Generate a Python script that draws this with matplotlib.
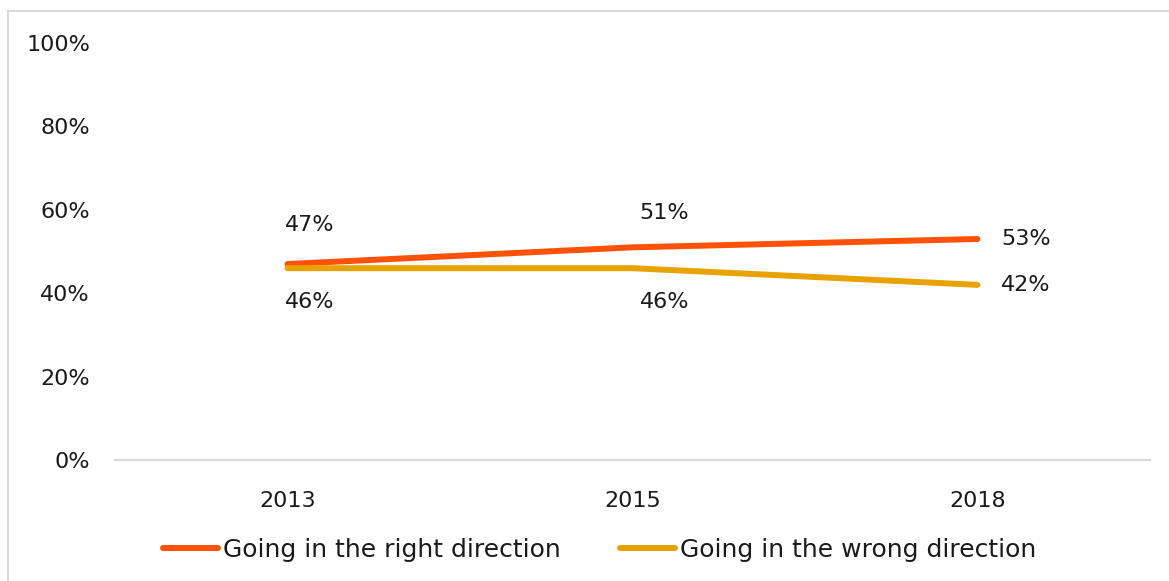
import matplotlib.pyplot as plt
from matplotlib.patches import Rectangle

years = ['2013', '2015', '2018']
right_dir = [47, 51, 53]
wrong_dir = [46, 46, 42]
yticks = [0, 20, 40, 60, 80, 100]

plt.rcParams['font.family'] = ['DejaVu Sans']

W, H = 1169, 581
fig = plt.figure(figsize=(W / 100, H / 100), dpi=100)
# axes area in pixels: x 115..1150, y 43..460
ax = fig.add_axes([115 / W, 1 - 460 / H, 1035 / W, 417 / H])

x = range(len(years))
ax.plot(x, right_dir, color='#FF5208', lw=4.3, solid_capstyle='round',
        label='Going in the right direction')
ax.plot(x, wrong_dir, color='#E8A202', lw=4.3, solid_capstyle='round',
        label='Going in the wrong direction')

ax.set_xlim(-0.5, 2.5)
ax.set_ylim(0, 100)
ax.set_yticks(yticks)
ax.set_yticklabels([f'{v}%' for v in yticks])
ax.set_xticks(list(x))
ax.set_xticklabels(years)
ax.tick_params(axis='both', length=0, labelsize=16, colors='#1a1a1a')
ax.tick_params(axis='y', pad=18)
ax.tick_params(axis='x', pad=22)
for s in ['top', 'right', 'left']:
    ax.spines[s].set_visible(False)
ax.spines['bottom'].set_color('#D9D9D9')
ax.spines['bottom'].set_linewidth(1.5)

# data labels (offsets in points)
right_off = [(-2, 28), (5, 25), (17, 0)]
wrong_off = [(-2, -24), (5, -24), (17, 0)]
for i in x:
    ax.annotate(f'{right_dir[i]}%', (i, right_dir[i]), xytext=right_off[i],
                textcoords='offset points', ha='left', va='center', fontsize=16,
                color='#1a1a1a')
    ax.annotate(f'{wrong_dir[i]}%', (i, wrong_dir[i]), xytext=wrong_off[i],
                textcoords='offset points', ha='left', va='center', fontsize=16,
                color='#1a1a1a')

leg = fig.legend(loc='center', bbox_to_anchor=(0.513, 1 - 550 / H), ncol=2,
                 frameon=False, fontsize=18, handlelength=2.2, handletextpad=0.2,
                 columnspacing=2.4)
for t in leg.get_texts():
    t.set_color('#1a1a1a')

# outer border (left and top visible)
fig.patches.append(Rectangle((8 / W, -0.05), 1.2, 1 - 11 / H + 0.05,
                             transform=fig.transFigure, fill=False,
                             edgecolor='#D9D9D9', lw=1.5))

fig.savefig('out.png', dpi=100)
